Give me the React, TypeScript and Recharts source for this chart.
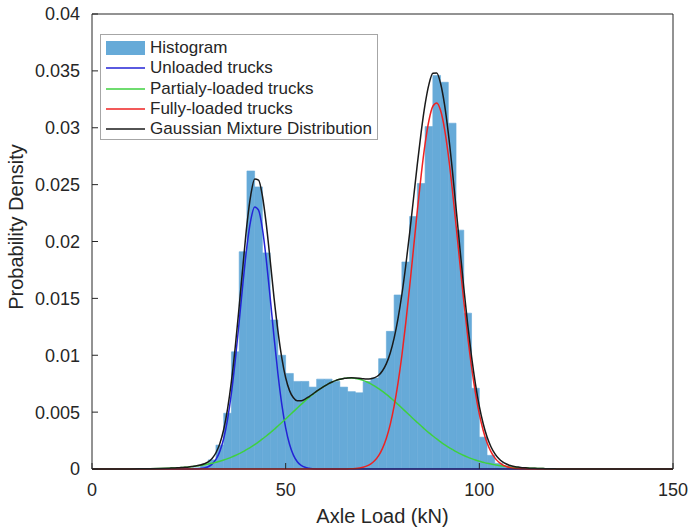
import { ComposedChart, Bar, Line, XAxis, YAxis, Legend, ReferenceLine } from 'recharts'

// ── Histogram (2 kN bins, centres at odd kN) ────────────────────────────────

const BIN_CENTER = [
  1, 3, 5, 7, 9, 11, 13, 15, 17, 19, 21, 23, 25, 27, 29, 31, 33, 35, 37, 39,
  41, 43, 45, 47, 49, 51, 53, 55, 57, 59, 61, 63, 65, 67, 69, 71, 73, 75, 77, 79,
  81, 83, 85, 87, 89, 91, 93, 95, 97, 99, 101, 103, 105, 107, 109, 111, 113, 115, 117, 119,
  121, 123, 125, 127, 129, 131, 133, 135, 137, 139, 141, 143, 145, 147, 149,
]

const HISTOGRAM = [
  0, 0, 0, 0, 0, 0, 0, 0, 0, 0, 0, 0, 0, 0.0001, 0.0003, 0.0008, 0.0021, 0.0049, 0.0103, 0.0191,
  0.0262, 0.0248, 0.019, 0.0131, 0.01, 0.0084, 0.0077, 0.0077, 0.0072, 0.0079, 0.0079, 0.0077, 0.0072, 0.0068, 0.0067, 0.0077, 0.008, 0.0097, 0.0121, 0.0153,
  0.0182, 0.0222, 0.0251, 0.0301, 0.0346, 0.034, 0.0304, 0.021, 0.0137, 0.0071, 0.0028, 0.0012, 0.0005, 0.0002, 0.0001, 0, 0, 0, 0, 0,
  0, 0, 0, 0, 0, 0, 0, 0, 0, 0, 0, 0, 0, 0, 0,
]

// ── Fitted curves ───────────────────────────────────────────────────────────

const CURVE_X = [
  0, 5, 10, 15,
  20, 21, 22, 23, 24, 25, 26, 27, 28, 29, 30, 31, 32, 33, 34, 35, 36, 37, 38, 39,
  40, 41, 42, 43, 44, 45, 46, 47, 48, 49, 50, 51, 52, 53, 54, 55, 56, 57, 58, 59,
  60, 61, 62, 63, 64, 65, 66, 67, 68, 69, 70, 71, 72, 73, 74, 75, 76, 77, 78, 79,
  80, 81, 82, 83, 84, 85, 86, 87, 88, 89, 90, 91, 92, 93, 94, 95, 96, 97, 98, 99,
  100, 101, 102, 103, 104, 105, 106, 107, 108, 109, 110, 111, 112, 113, 114, 115, 116, 117, 118, 119,
  120, 125, 130, 135, 140, 145, 150,
]

const UNLOADED = [
  0, 0, 0, 0,
  0, 0, 0, 0, 0, 0, 0.00001, 0.00002, 0.00004, 0.00009, 0.0002, 0.00043, 0.00084, 0.00155, 0.00268, 0.00437, 0.00668, 0.0096, 0.01296, 0.01644,
  0.01958, 0.02191, 0.02304, 0.02275, 0.02111, 0.01839, 0.01506, 0.01158, 0.00837, 0.00568, 0.00362, 0.00217, 0.00122, 0.00064, 0.00032, 0.00015, 0.00007, 0.00003, 0.00001, 0,
  0, 0, 0, 0, 0, 0, 0, 0, 0, 0, 0, 0, 0, 0, 0, 0, 0, 0, 0, 0,
  0, 0, 0, 0, 0, 0, 0, 0, 0, 0, 0, 0, 0, 0, 0, 0, 0, 0, 0, 0,
  0, 0, 0, 0, 0, 0, 0, 0, 0, 0, 0, 0, 0, 0, 0, 0, 0, 0, 0, 0,
  0, 0, 0, 0, 0, 0, 0,
]

const PARTIAL = [
  0, 0, 0.00001, 0.00002,
  0.00007, 0.00009, 0.0001, 0.00013, 0.00015, 0.00018, 0.00022, 0.00026, 0.00031, 0.00037, 0.00043, 0.0005, 0.00059, 0.00068, 0.00079, 0.00091, 0.00104, 0.00119, 0.00135, 0.00152,
  0.00172, 0.00192, 0.00214, 0.00238, 0.00264, 0.0029, 0.00318, 0.00347, 0.00378, 0.00409, 0.0044, 0.00472, 0.00504, 0.00536, 0.00568, 0.00599, 0.00628, 0.00656, 0.00683, 0.00707,
  0.00729, 0.00749, 0.00765, 0.00779, 0.00789, 0.00796, 0.008, 0.008, 0.00796, 0.00789, 0.00779, 0.00765, 0.00749, 0.00729, 0.00707, 0.00683, 0.00656, 0.00628, 0.00599, 0.00568,
  0.00536, 0.00504, 0.00472, 0.0044, 0.00409, 0.00378, 0.00347, 0.00318, 0.0029, 0.00264, 0.00238, 0.00214, 0.00192, 0.00172, 0.00152, 0.00135, 0.00119, 0.00104, 0.00091, 0.00079,
  0.00068, 0.00059, 0.0005, 0.00043, 0.00037, 0.00031, 0.00026, 0.00022, 0.00018, 0.00015, 0.00013, 0.0001, 0.00009, 0.00007, 0.00006, 0.00005, 0.00004, 0.00003, 0.00002, 0.00002,
  0.00001, 0, 0, 0, 0, 0, 0,
]

const FULLY = [
  0, 0, 0, 0,
  0, 0, 0, 0, 0, 0, 0, 0, 0, 0, 0, 0, 0, 0, 0, 0, 0, 0, 0, 0,
  0, 0, 0, 0, 0, 0, 0, 0, 0, 0, 0, 0, 0, 0, 0, 0, 0, 0, 0, 0,
  0, 0, 0, 0, 0, 0, 0.00001, 0.00002, 0.00005, 0.00009, 0.00015, 0.00027, 0.00045, 0.00074, 0.00117, 0.00181, 0.0027, 0.00392, 0.00552, 0.00754,
  0.00998, 0.01283, 0.016, 0.01936, 0.02273, 0.02588, 0.0286, 0.03066, 0.03189, 0.03218, 0.03151, 0.02993, 0.02758, 0.02466, 0.02139, 0.01801, 0.0147, 0.01165, 0.00895, 0.00668,
  0.00483, 0.00339, 0.00231, 0.00153, 0.00098, 0.00061, 0.00037, 0.00022, 0.00012, 0.00007, 0.00004, 0.00002, 0.00001, 0, 0, 0, 0, 0, 0, 0,
  0, 0, 0, 0, 0, 0, 0,
]

const MIXTURE = [
  0, 0, 0.00001, 0.00002,
  0.00007, 0.00009, 0.0001, 0.00013, 0.00015, 0.00018, 0.00023, 0.00028, 0.00035, 0.00046, 0.00063, 0.00093, 0.00143, 0.00223, 0.00347, 0.00528, 0.00772, 0.01079, 0.01431, 0.01796,
  0.0215, 0.0241, 0.0255, 0.0254, 0.024, 0.0215, 0.01835, 0.01505, 0.01215, 0.00977, 0.00802, 0.00689, 0.00626, 0.006, 0.006, 0.00614, 0.00635, 0.00659, 0.00684, 0.00707,
  0.00729, 0.00749, 0.00765, 0.00779, 0.00789, 0.00796, 0.00801, 0.00802, 0.00801, 0.00798, 0.00794, 0.00792, 0.00794, 0.00803, 0.00824, 0.00864, 0.00926, 0.0102, 0.01151, 0.01322,
  0.01534, 0.01787, 0.02072, 0.02376, 0.02682, 0.02966, 0.03207, 0.03384, 0.03479, 0.03482, 0.03389, 0.03207, 0.0295, 0.02638, 0.02291, 0.01936, 0.01589, 0.01269, 0.00986, 0.00747,
  0.00551, 0.00398, 0.00281, 0.00196, 0.00135, 0.00092, 0.00063, 0.00044, 0.0003, 0.00022, 0.00017, 0.00012, 0.0001, 0.00007, 0.00006, 0.00005, 0.00004, 0.00003, 0.00002, 0.00002,
  0.00001, 0, 0, 0, 0, 0, 0,
]

const X_TICKS = [0, 50, 100, 150]
const Y_TICKS = [0, 0.005, 0.01, 0.015, 0.02, 0.025, 0.03, 0.035, 0.04]

const HIST_COLOR = '#66aad8'
const FONT = '"Liberation Sans", Arial, Helvetica, sans-serif'
const INK = '#262626'

const SERIES = [
  { key: 'unloaded', name: 'Unloaded trucks', color: '#2323d6' },
  { key: 'partial', name: 'Partialy-loaded trucks', color: '#3fd13f' },
  { key: 'fully', name: 'Fully-loaded trucks', color: '#ee2222' },
  { key: 'mixture', name: 'Gaussian Mixture Distribution', color: '#1a1a1a' },
]

const histRows = BIN_CENTER.map((x, i) => ({ x, hist: HISTOGRAM[i] }))

const curveRows = CURVE_X.map((x, i) => ({
  x,
  unloaded: UNLOADED[i],
  partial: PARTIAL[i],
  fully: FULLY[i],
  mixture: MIXTURE[i],
}))

// ── Axis titles ─────────────────────────────────────────────────────────────

// eslint-disable-next-line @typescript-eslint/no-explicit-any
const XTitle = ({ viewBox }: any) => (
  <text
    x={viewBox.x + viewBox.width / 2}
    y={viewBox.y + 54}
    textAnchor="middle"
    fontSize={20}
    fontFamily={FONT}
    fill={INK}
  >
    Axle Load (kN)
  </text>
)

const YTitle = () => (
  <text
    x={16}
    y={227}
    transform="rotate(-90 16 227)"
    textAnchor="middle"
    dominantBaseline="central"
    fontSize={20}
    fontFamily={FONT}
    fill={INK}
  >
    Probability Density
  </text>
)

// ── Legend box ──────────────────────────────────────────────────────────────

const LegendBox = () => (
  <div
    style={{
      boxSizing: 'border-box',
      width: 278,
      border: '1px solid #a6a6a6',
      background: '#fff',
      padding: '3px 5px 0 5px',
      fontFamily: FONT,
      fontSize: 17,
      color: INK,
    }}
  >
    <div style={{ display: 'flex', alignItems: 'center', height: 20.3 }}>
      <svg width={39} height={20} style={{ marginRight: 5, flex: 'none' }}>
        <rect x={0} y={3} width={39} height={14} fill={HIST_COLOR} />
      </svg>
      <span style={{ whiteSpace: 'nowrap' }}>Histogram</span>
    </div>
    {SERIES.map((s) => (
      <div key={s.key} style={{ display: 'flex', alignItems: 'center', height: 20.3 }}>
        <svg width={39} height={20} style={{ marginRight: 5, flex: 'none' }}>
          <line x1={0} x2={39} y1={10} y2={10} stroke={s.color} strokeWidth={1.5} />
        </svg>
        <span style={{ whiteSpace: 'nowrap' }}>{s.name}</span>
      </div>
    ))}
  </div>
)

export default function App() {
  const tickStyle = { fill: INK, fontSize: 18, fontFamily: FONT }
  return (
    <div style={{ position: 'absolute', left: 0, top: 0, background: '#fff' }}>
      <ComposedChart
        width={689}
        height={531}
        data={histRows}
        margin={{ top: 14, right: 16, bottom: 0, left: 0 }}
      >
        <XAxis
          dataKey="x"
          type="number"
          domain={[0, 150]}
          ticks={X_TICKS}
          height={62}
          stroke={INK}
          tickSize={-6}
          tickMargin={20}
          tick={tickStyle}
          label={<XTitle />}
        />
        {/* separate hidden axis so the bar width follows the 2 kN bins only */}
        <XAxis xAxisId="bins" dataKey="x" type="number" domain={[0, 150]} hide />
        <YAxis
          type="number"
          domain={[0, 0.04]}
          ticks={Y_TICKS}
          width={92}
          stroke={INK}
          tickSize={-6}
          tickMargin={18}
          tick={tickStyle}
          label={<YTitle />}
        />
        <ReferenceLine y={0.04} stroke={INK} strokeWidth={1} />
        <ReferenceLine x={150} stroke={INK} strokeWidth={1} />
        <Bar
          xAxisId="bins"
          dataKey="hist"
          name="Histogram"
          fill={HIST_COLOR}
          stroke={HIST_COLOR}
          strokeWidth={0.6}
          barSize={7.7}
          isAnimationActive={false}
        />
        {SERIES.map((s) => (
          <Line
            key={s.key}
            data={curveRows}
            dataKey={s.key}
            name={s.name}
            type="monotone"
            stroke={s.color}
            strokeWidth={1.5}
            dot={false}
            activeDot={false}
            isAnimationActive={false}
          />
        ))}
        <Legend
          layout="vertical"
          align="center"
          verticalAlign="middle"
          content={<LegendBox />}
          wrapperStyle={{ position: 'absolute', left: 100, top: 34, width: 278, height: 'auto' }}
        />
      </ComposedChart>
    </div>
  )
}
